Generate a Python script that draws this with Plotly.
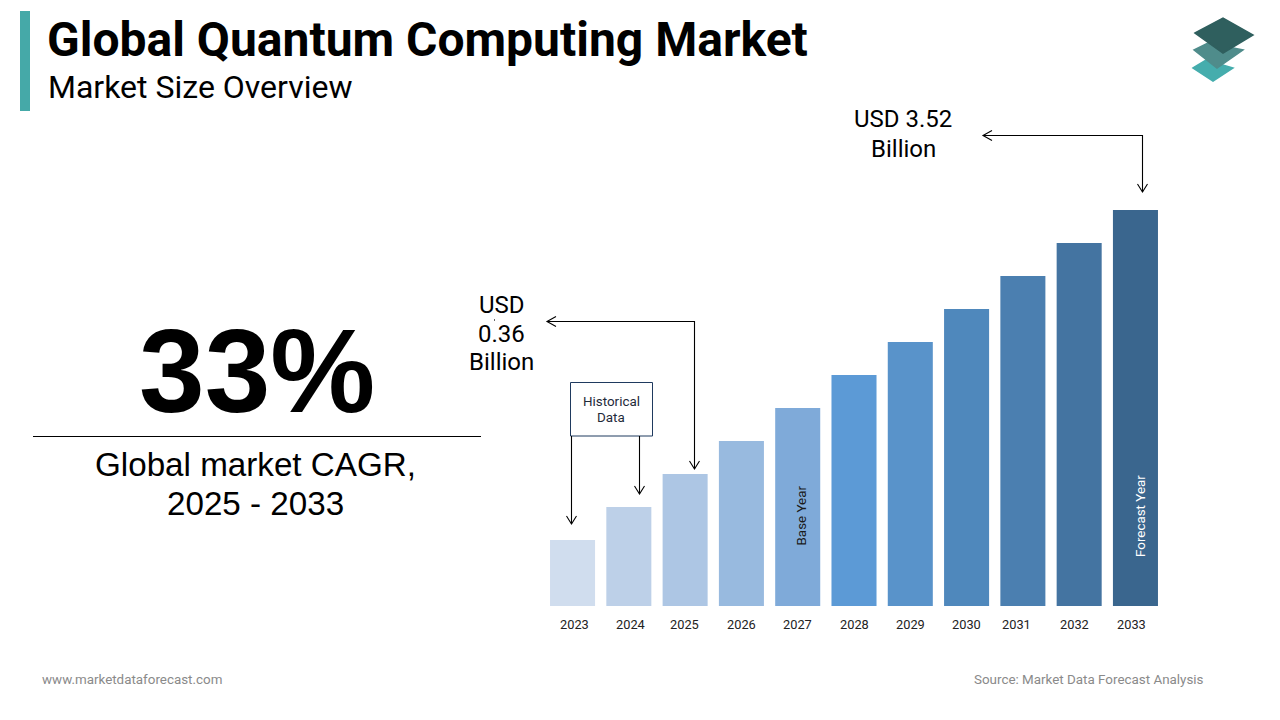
import plotly.graph_objects as go

W = 1280
H = 720

years = ['2023', '2024', '2025', '2026', '2027', '2028', '2029', '2030', '2031', '2032', '2033']
# relative bar heights, the chart has no value axis
heights = [2, 3, 4, 5, 6, 7, 8, 9, 10, 11, 12]
bar_colors = ['#D0DDEE', '#BDD0E8', '#ADC6E4', '#98BADF', '#7FAAD9', '#5C9AD6',
              '#5993CA', '#4F88BC', '#4B7FB0', '#4474A1', '#3A668E']
# the year labels are not quite centred under their bars in the original
year_shift = [2, 2, -1, 0, 0, 0, 0, 0, -6, -5, -4]


def px(x):
    return x / W


def py(y):
    return 1 - y / H


def path(points, close=False):
    s = 'M ' + ' L '.join(f'{px(x):.5f},{py(y):.5f}' for x, y in points)
    return s + ' Z' if close else s


def line_shape(points, color='#000000', width=1.1):
    return dict(type='path', xref='paper', yref='paper', path=path(points),
                line=dict(color=color, width=width), fillcolor='rgba(0,0,0,0)')


def poly_shape(points, color):
    return dict(type='path', xref='paper', yref='paper', path=path(points, True),
                line=dict(color=color, width=1.5), fillcolor=color)


def down_head(x, y):
    return line_shape([(x - 5, y - 8), (x, y), (x + 5, y - 8)])


def left_head(x, y):
    return line_shape([(x + 9, y - 5), (x, y), (x + 9, y + 5)])


def label(text, x, y, size, font='Roboto', color='#000000', anchor='center', angle=0, bold=False):
    return dict(text=f'<b>{text}</b>' if bold else text, xref='paper', yref='paper',
                x=px(x), y=py(y), xanchor=anchor, yanchor='middle', showarrow=False,
                textangle=angle, font=dict(family=font, size=size, color=color))


fig = go.Figure(go.Bar(x=years, y=heights, width=0.8, marker=dict(color=bar_colors, line_width=0),
                       hoverinfo='skip'))

shapes = [
    # accent bar next to the title
    dict(type='rect', xref='paper', yref='paper', x0=px(20), x1=px(30), y0=py(111), y1=py(11),
         fillcolor='#45A9A8', line_width=0),
    # logo
    poly_shape([(1193, 68), (1206, 60), (1233, 68), (1213, 81)], '#45ADAD'),
    poly_shape([(1194, 50), (1208, 43), (1243, 50), (1217, 68)], '#4F8C8B'),
    poly_shape([(1195, 33), (1223, 18), (1253, 35), (1223, 53)], '#2F5F5E'),
    # rule under the 33%
    line_shape([(33, 436.5), (481, 436.5)]),
    # historical data box
    dict(type='rect', xref='paper', yref='paper', x0=px(570.5), x1=px(652.5), y0=py(436), y1=py(382.5),
         fillcolor='#FFFFFF', line=dict(color='#1F3A5F', width=1)),
    # leaders
    line_shape([(571.5, 436), (571.5, 524)]), down_head(571.5, 524),
    line_shape([(639.5, 436), (639.5, 494)]), down_head(639.5, 494),
    line_shape([(547, 321.5), (694.5, 321.5), (694.5, 469)]), left_head(547, 321.5), down_head(694.5, 469),
    line_shape([(983, 135.5), (1142.5, 135.5), (1142.5, 192)]), left_head(983, 135.5), down_head(1142.5, 192),
    # speck over the 0.36 label
    line_shape([(494.5, 319), (494.5, 321)], color='#666666', width=1),
]

annotations = [
    label('Global Quantum Computing Market', 45, 39.5, 48, anchor='left', bold=True),
    label('Market Size Overview', 46, 87, 32, anchor='left'),
    label('33%', 257, 371, 118, font='Liberation Sans', bold=True),
    label('Global market CAGR,', 255.5, 464, 33.2, font='Liberation Sans'),
    label('2025 - 2033', 255.5, 504, 33.2, font='Liberation Sans'),
    label('USD 3.52', 903, 119.5, 24),
    label('Billion', 903, 148.5, 24),
    label('USD', 501.5, 305, 24),
    label('0.36', 501.5, 334, 24),
    label('Billion', 501.5, 362, 24),
    label('Historical', 611, 401, 13.4, color='#1F2A3A'),
    label('Data', 611, 417, 13.4, color='#1F2A3A'),
    label('Base Year', 800.5, 516, 13.4, color='#1A1A1A', angle=-90),
    label('Forecast Year', 1140, 516, 13.4, color='#FFFFFF', angle=-90),
    label('www.marketdataforecast.com', 40, 679, 13.4, color='#8A8A8A', anchor='left'),
    label('Source: Market Data Forecast Analysis', 1206, 679, 13.4, color='#8A8A8A', anchor='right'),
]
# annotations on a category axis take the serial number of the category, not its name
for i, (year, shift) in enumerate(zip(years, year_shift)):
    annotations.append(dict(text=year, xref='x', yref='paper', x=i, y=py(624), xshift=shift,
                            yanchor='middle', showarrow=False,
                            font=dict(family='Roboto', size=12.8, color='#222222')))

fig.update_layout(
    width=W,
    height=H,
    margin=dict(l=0, r=0, t=0, b=0),
    paper_bgcolor='#FFFFFF',
    plot_bgcolor='#FFFFFF',
    showlegend=False,
    shapes=shapes,
    annotations=annotations,
    xaxis=dict(domain=[px(544.4), px(1163.6)], type='category', range=[-0.5, 10.5], showgrid=False,
               showline=False, zeroline=False, showticklabels=False),
    yaxis=dict(domain=[py(606), py(210)], range=[0, 12], visible=False),
)

fig.write_html('out.html', config={'displayModeBar': False}, post_script="document.body.style.margin='0';")
